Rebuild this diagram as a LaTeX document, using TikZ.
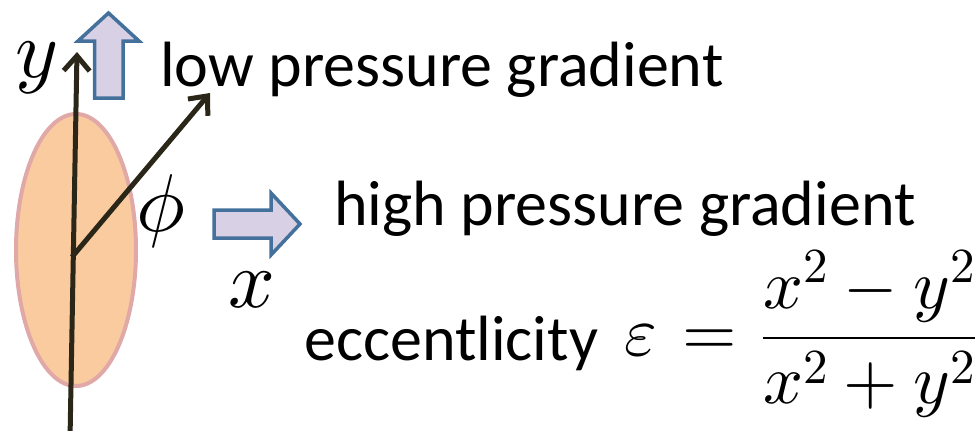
\documentclass[tikz,border=0pt]{standalone}
\usepackage{fontspec}
\setmainfont{Carlito}
\DeclareFontShape{OML}{cmm}{m}{it}{<->cmmi10}{}
\DeclareFontShape{OMS}{cmsy}{m}{n}{<->cmsy10}{}
\DeclareFontShape{OT1}{cmr}{m}{n}{<->cmr10}{}
\DeclareFontShape{OMX}{cmex}{m}{n}{<->cmex10}{}
\usetikzlibrary{arrows.meta,shapes.geometric}
\definecolor{peach}{HTML}{FACB9F}
\definecolor{peachedge}{HTML}{E0A8A6}
\definecolor{lav}{HTML}{D8D0E4}
\definecolor{blockedge}{HTML}{43719C}
\definecolor{axiscol}{HTML}{2A2618}
\tikzset{
  axisarrow/.style={draw=axiscol, line width=5pt, line cap=butt,
    -{Straight Barb[length=15pt,width=26pt,line width=5pt]}},
  blockarrow/.style={fill=lav, draw=blockedge, line width=3.5pt, line join=miter},
  blob/.style={ellipse, fill=peach, draw=peachedge, line width=4pt, inner sep=0pt,
    minimum width=120pt, minimum height=272pt},
  txt/.style={inner sep=0pt, anchor=base west, font=\fontsize{64}{72}\selectfont},
  mlbl/.style={inner sep=0pt, anchor=base west, font=\fontsize{82}{90}\selectfont},
  eqn/.style={inner sep=0pt, anchor=base west, font=\fontsize{70}{76}\selectfont}
}
\begin{document}
\begin{tikzpicture}[x=1pt,y=-1pt]
\useasboundingbox (0,0) rectangle (978,431);
% ellipse
\node[blob] (body) at (76,250) {};
% axes
\coordinate (ybot) at (70,440);
\coordinate (ytip) at (77,52);
\coordinate (org) at (72,257);
\coordinate (dtip) at (210,93);
\draw[axisarrow] (ybot) -- (ytip);
\draw[axisarrow] (org) -- (dtip);
% block arrows
\draw[blockarrow] (94.5,98) -- (94.5,41) -- (78,41) -- (108.5,13) -- (139,41) -- (123,41) -- (123,98) -- cycle;
\draw[blockarrow] (214,210) -- (271,210) -- (271,193) -- (300,224) -- (271,255) -- (271,238) -- (214,238) -- cycle;
% labels
\node[mlbl] (ylab) at (15,77) {$y$};
\node[mlbl] (philab) at (136,231) {$\phi$};
\node[mlbl] (xlab) at (228,307) {$x$};
\node[txt] (low) at (160,86) {low pressure gradient};
\node[txt] (high) at (334,225) {high pressure gradient};
\node[txt] (ecc) at (304,360) {eccentlicity};
\node[eqn] (eq) at (624,355.5) {$\displaystyle\varepsilon\mkern1.5mu = \mkern1.5mu \frac{x^2-y^2}{x^2+y^2}$};
\end{tikzpicture}
\end{document}
